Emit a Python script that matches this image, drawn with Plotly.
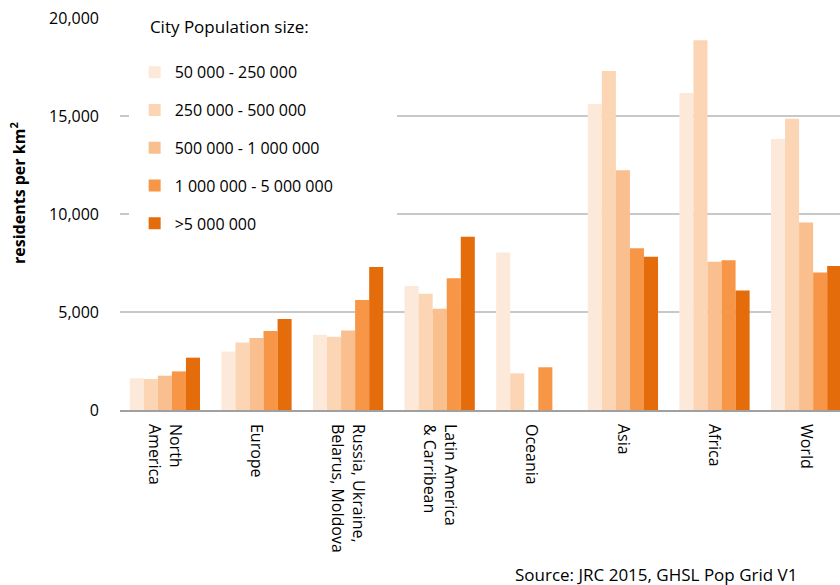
import plotly.graph_objects as go

categories = ["North<br>America", "Europe", "Russia, Ukraine,<br>Belarus, Moldova",
              "Latin America<br>& Carribean", "Oceania", "Asia", "Africa", "World"]

series_names = ["50 000 - 250 000", "250 000 - 500 000", "500 000 - 1 000 000",
                "1 000 000 - 5 000 000", ">5 000 000"]
series_colors = ["#FDE9D9", "#FCD5B4", "#FABF8F", "#F79646", "#E46C0A"]

s_50k_250k = [1620, 2980, 3840, 6330, 8040, 15610, 16170, 13830]
s_250k_500k = [1580, 3450, 3740, 5930, 1870, 17300, 18860, 14860]
s_500k_1m = [1750, 3670, 4060, 5170, None, 12230, 7570, 9570]
s_1m_5m = [1970, 4030, 5610, 6720, 2180, 8250, 7640, 7020]
s_over_5m = [2670, 4640, 7300, 8840, None, 7820, 6100, 7350]

series_values = [s_50k_250k, s_250k_500k, s_500k_1m, s_1m_5m, s_over_5m]

y_tick_vals = [0, 5000, 10000, 15000, 20000]
y_tick_text = ["0", "5,000", "10,000", "15,000", "20,000"]

FONT = "Open Sans"

fig = go.Figure()
for i, (name, vals, col) in enumerate(zip(series_names, series_values, series_colors)):
    fig.add_trace(go.Bar(
        x=categories, y=vals, name=name,
        marker=dict(color=col, line=dict(width=0)),
        legendgroup=f"g{i}",
    ))

legend_title = "\u00a0\u00a0\u00a0City Population size:<br>" + "\u00a0" * 57

fig.update_layout(
    width=840, height=585,
    margin=dict(l=120, r=0, t=18, b=175),
    paper_bgcolor="white", plot_bgcolor="white",
    barmode="group", bargap=0.233, bargroupgap=0,
    font=dict(family=FONT, size=16, color="#000000"),
    showlegend=True,
    legend=dict(
        x=0.012, y=1.033, xanchor="left", yanchor="top",
        bgcolor="white", bordercolor="white", borderwidth=6,
        title=dict(text=legend_title, font=dict(family=FONT, size=17)),
        font=dict(family=FONT, size=16),
        traceorder="grouped", tracegroupgap=14,
    ),
    xaxis=dict(
        range=[-0.49, 7.37],
        tickangle=90,
        tickfont=dict(family=FONT, size=16),
        showline=True, linecolor="#a0a0a0", linewidth=1.5,
        showgrid=False, ticks="",
        ticklabelstandoff=9,
    ),
    yaxis=dict(
        range=[0, 20000],
        tickvals=y_tick_vals, ticktext=y_tick_text,
        tickfont=dict(family=FONT, size=16),
        showgrid=True, gridcolor="#c8c8c8", gridwidth=1.5,
        zeroline=False, showline=False, ticks="",
        ticklabelstandoff=20,
    ),
    annotations=[
        dict(text="residents per km<sup>2</sup>", textangle=-90,
             xref="paper", yref="paper", x=-0.1417, y=0.5536,
             xanchor="center", yanchor="middle", showarrow=False,
             font=dict(family=FONT, size=16, weight="bold")),
        dict(text="Source: JRC 2015, GHSL Pop Grid V1",
             xref="paper", yref="paper", x=0.745, y=-0.4185,
             xanchor="center", yanchor="middle", showarrow=False,
             font=dict(family=FONT, size=17)),
    ],
)

fig.write_html("out.html", config={"displayModeBar": False},
               post_script="document.body.style.margin='0';")
